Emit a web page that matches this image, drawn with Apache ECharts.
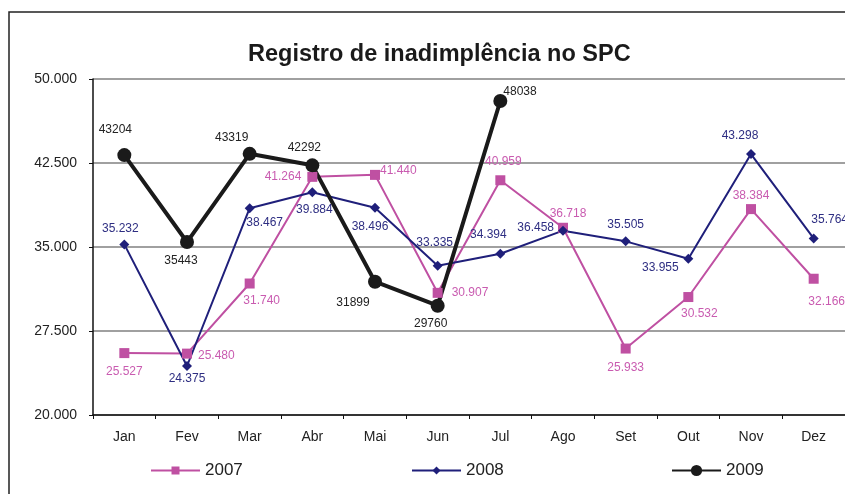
<!DOCTYPE html>
<html>
<head>
<meta charset="utf-8" />
<title>Registro de inadimplência no SPC</title>
<style type="text/css">
body,div{margin:0;padding:0;}
#main{width:845px;height:494px;background:#fff;}
</style>
<script src="https://cdn.jsdelivr.net/npm/echarts@6/dist/echarts.min.js"></script>
</head>
<body>
<div id="main"></div>
<script type="text/javascript">
var meses = ['Jan','Fev','Mar','Abr','Mai','Jun','Jul','Ago','Set','Out','Nov','Dez'];
var v2007 = [25527, 25480, 31740, 41264, 41440, 30907, 40959, 36718, 25933, 30532, 38384, 32166];
var v2008 = [35232, 24375, 38467, 39884, 38496, 33335, 34394, 36458, 35505, 33955, 43298, 35764];
var v2009 = [43204, 35443, 43319, 42292, 31899, 29760, 48038];
var yTicks = [20000, 27500, 35000, 42500, 50000];

// where each label sits: [position, offsetX, offsetY]
var pos2007 = [['bottom',0,2],['right',0,2],['bottom',12,0],['left',0,0],['right',-6,-4],['right',3,0],
               ['top',3,-2],['top',5,3],['bottom',0,2],['bottom',11,0],['top',0,4],['bottom',13,6]];
var pos2008 = [['top',-4,1],['bottom',0,-4],['bottom',15,-2],['bottom',2,0],['bottom',-5,2],['top',-3,-6],
               ['top',-12,-2],['left',2,-3],['top',0,0],['bottom',-28,-8],['top',-11,-1],['top',16,-2]];
var pos2009 = [['top',-9,-6],['bottom',-6,0],['top',-18,3],['top',-8,1],['bottom',-22,2],['bottom',-7,-1],
               ['right',-10,-9]];

function fmtPt(v){ return (v/1000).toFixed(3); }

function build(vals, pos, fmt){
    return vals.map(function(v, i){
        var p = pos[i];
        return {value: v, label: {position: p[0], offset: [p[1], p[2]],
            formatter: function(){ return fmt(v); }}};
    });
}

var font = 'Liberation Sans';
var chart = echarts.init(document.getElementById('main'), null, {renderer:'canvas'});

var legendText = {fontFamily: font, fontSize: 17, color: '#222'};

var option = {
    animation: false,
    textStyle: {fontFamily: font},
    title: {
        text: 'Registro de inadimplência no SPC',
        left: 243, top: 38,
        textStyle: {fontFamily: font, fontSize: 23.5, fontWeight: 'bold', color: '#1a1a1a'}
    },
    graphic: [{
        type: 'rect', silent: true,
        shape: {x: 9, y: 12, width: 900, height: 600},
        style: {fill: 'none', stroke: '#222', lineWidth: 1.5}
    }],
    legend: [
        {data: ['2007'], left: 150, top: 462, padding: 0, itemWidth: 49, itemHeight: 10, itemGap: 3, textStyle: legendText},
        {data: ['2008'], left: 411, top: 462, padding: 0, itemWidth: 49, itemHeight: 10, itemGap: 3, textStyle: legendText},
        {data: ['2009'], left: 671, top: 462, padding: 0, itemWidth: 49, itemHeight: 14, itemGap: 3, textStyle: legendText}
    ],
    grid: {left: 93, right: 0, top: 79, bottom: 79},
    xAxis: {
        type: 'category', data: meses, boundaryGap: true,
        axisLine: {lineStyle: {color: '#111', width: 1.5}},
        axisTick: {show: true, length: 4, lineStyle: {color: '#111'}},
        axisLabel: {fontFamily: font, fontSize: 14, color: '#222', margin: 15}
    },
    yAxis: {
        type: 'value', min: yTicks[0], max: yTicks[yTicks.length-1], interval: 7500,
        axisLine: {show: true, lineStyle: {color: '#111', width: 1.5}},
        axisTick: {show: true, length: 4, lineStyle: {color: '#111'}},
        axisLabel: {fontFamily: font, fontSize: 14, color: '#222', margin: 16,
            formatter: function(v){ return fmtPt(v); }},
        splitLine: {lineStyle: {color: '#808080', width: 1.5}}
    },
    series: [
        {
            name: '2007', type: 'line', symbol: 'rect', symbolSize: 10,
            itemStyle: {color: '#BF50A2'},
            lineStyle: {color: '#BF50A2', width: 2},
            label: {show: true, fontFamily: font, fontSize: 12, color: '#C95BB0', distance: 6},
            data: build(v2007, pos2007, fmtPt)
        },
        {
            name: '2008', type: 'line', symbol: 'diamond', symbolSize: 10,
            itemStyle: {color: '#1F1F7A'},
            lineStyle: {color: '#1F1F7A', width: 2},
            label: {show: true, fontFamily: font, fontSize: 12, color: '#2E2E82', distance: 6},
            data: build(v2008, pos2008, fmtPt)
        },
        {
            name: '2009', type: 'line', symbol: 'circle', symbolSize: 14,
            itemStyle: {color: '#1A1A1A'},
            lineStyle: {color: '#1A1A1A', width: 4},
            label: {show: true, fontFamily: font, fontSize: 12, color: '#222', distance: 6},
            data: build(v2009, pos2009, function(v){ return String(v); }),
            z: 3
        }
    ]
};
chart.setOption(option);
</script>
</body>
</html>
